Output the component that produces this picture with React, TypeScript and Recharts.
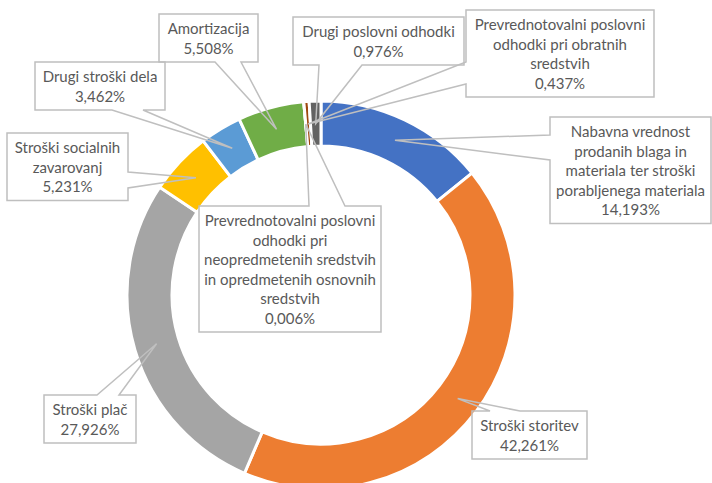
import { PieChart, Pie, Cell } from 'recharts'

const NAMES = [
  'Nabavna vrednost prodanih blaga in materiala ter stroški porabljenega materiala',
  'Stroški storitev',
  'Stroški plač',
  'Stroški socialnih zavarovanj',
  'Drugi stroški dela',
  'Amortizacija',
  'Prevrednotovalni poslovni odhodki pri neopredmetenih sredstvih in opredmetenih osnovnih sredstvih',
  'Prevrednotovalni poslovni odhodki pri obratnih sredstvih',
  'Drugi poslovni odhodki',
]

// shares in percent
const VALUES = [14.193, 42.261, 27.926, 5.231, 3.462, 5.508, 0.006, 0.437, 0.976]

// how each label wraps inside its box
const LABEL_LINES = [
  ['Nabavna vrednost', 'prodanih blaga in', 'materiala ter stroški', 'porabljenega materiala'],
  ['Stroški storitev'],
  ['Stroški plač'],
  ['Stroški socialnih', 'zavarovanj'],
  ['Drugi stroški dela'],
  ['Amortizacija'],
  ['Prevrednotovalni poslovni', 'odhodki pri', 'neopredmetenih sredstvih', 'in opredmetenih osnovnih', 'sredstvih'],
  ['Prevrednotovalni poslovni', 'odhodki pri obratnih', 'sredstvih'],
  ['Drugi poslovni odhodki'],
]

const COLORS = ['#4472C4', '#ED7D31', '#A5A5A5', '#FFC000', '#5B9BD5', '#70AD47', '#264478', '#9E480E', '#636363']

const data = NAMES.map((name, i) => ({ name, value: VALUES[i] }))

// callout boxes: left, top, width, which edge carries the pointer and where it sits on that edge
type Box = { x: number; y: number; w: number; edge: 'top' | 'bottom' | 'left' | 'right'; b1: number; b2: number }
const BOXES: Box[] = [
  { x: 550, y: 117, w: 161, edge: 'left', b1: 135, b2: 160 },
  { x: 472, y: 411, w: 115, edge: 'top', b1: 490, b2: 520 },
  { x: 44, y: 395, w: 92, edge: 'top', b1: 97, b2: 119 },
  { x: 7, y: 133, w: 121, edge: 'right', b1: 172, b2: 188 },
  { x: 35, y: 62, w: 130, edge: 'bottom', b1: 112, b2: 143 },
  { x: 159, y: 14, w: 99, edge: 'bottom', b1: 215, b2: 241 },
  { x: 199, y: 206, w: 182, edge: 'top', b1: 309, b2: 345 },
  { x: 466, y: 10, w: 188, edge: 'left', b1: 62, b2: 84 },
  { x: 293, y: 17, w: 171, edge: 'bottom', b1: 319, b2: 362 },
]

const LH = 19.5
const PAD = 4.5
const RADIAN = Math.PI / 180

const fmt = (v: number) => v.toFixed(3).replace('.', ',') + '%'

function calloutPath(b: Box, h: number, ax: number, ay: number) {
  const { x, y, w, b1, b2 } = b
  const r = x + w
  const btm = y + h
  if (b.edge === 'top') return `M${x},${y} H${b1} L${ax},${ay} L${b2},${y} H${r} V${btm} H${x} Z`
  if (b.edge === 'bottom') return `M${x},${y} H${r} V${btm} H${b2} L${ax},${ay} L${b1},${btm} H${x} Z`
  if (b.edge === 'left') return `M${x},${y} H${r} V${btm} H${x} V${b2} L${ax},${ay} L${x},${b1} Z`
  return `M${x},${y} H${r} V${b1} L${ax},${ay} L${r},${b2} V${btm} H${x} Z`
}

function renderLabel(props: any) {
  const { cx, cy, midAngle, innerRadius, outerRadius, index } = props
  const b = BOXES[index]
  const lines = [...LABEL_LINES[index], fmt(VALUES[index])]
  const h = lines.length * LH + PAD * 2
  const rr = (innerRadius + outerRadius) / 2
  const ax = cx + rr * Math.cos(-midAngle * RADIAN)
  const ay = cy + rr * Math.sin(-midAngle * RADIAN)
  return (
    <g key={`lbl-${index}`}>
      <path d={calloutPath(b, h, ax, ay)} fill="none" stroke="#BFBFBF" strokeWidth={1.5} strokeLinejoin="miter" />
      {lines.map((t, i) => (
        <text
          key={i}
          x={b.x + b.w / 2}
          y={b.y + PAD + LH * (i + 0.5)}
          textAnchor="middle"
          dominantBaseline="central"
          fontFamily="Lato, 'Open Sans', sans-serif"
          fontSize={15}
          fill="#595959"
        >
          {t}
        </text>
      ))}
    </g>
  )
}

export default function App() {
  return (
    <div style={{ width: 712, height: 483, background: '#fff' }}>
      <style>{`body{margin:0}`}</style>
      <PieChart width={712} height={483}>
        <Pie
          data={data}
          dataKey="value"
          nameKey="name"
          cx={316}
          cy={290}
          innerRadius={149}
          outerRadius={194}
          startAngle={90}
          endAngle={-270}
          stroke="#fff"
          strokeWidth={3}
          label={renderLabel}
          labelLine={false}
          isAnimationActive={false}
        >
          {data.map((d, i) => (
            <Cell key={d.name} fill={COLORS[i]} />
          ))}
        </Pie>
      </PieChart>
    </div>
  )
}
